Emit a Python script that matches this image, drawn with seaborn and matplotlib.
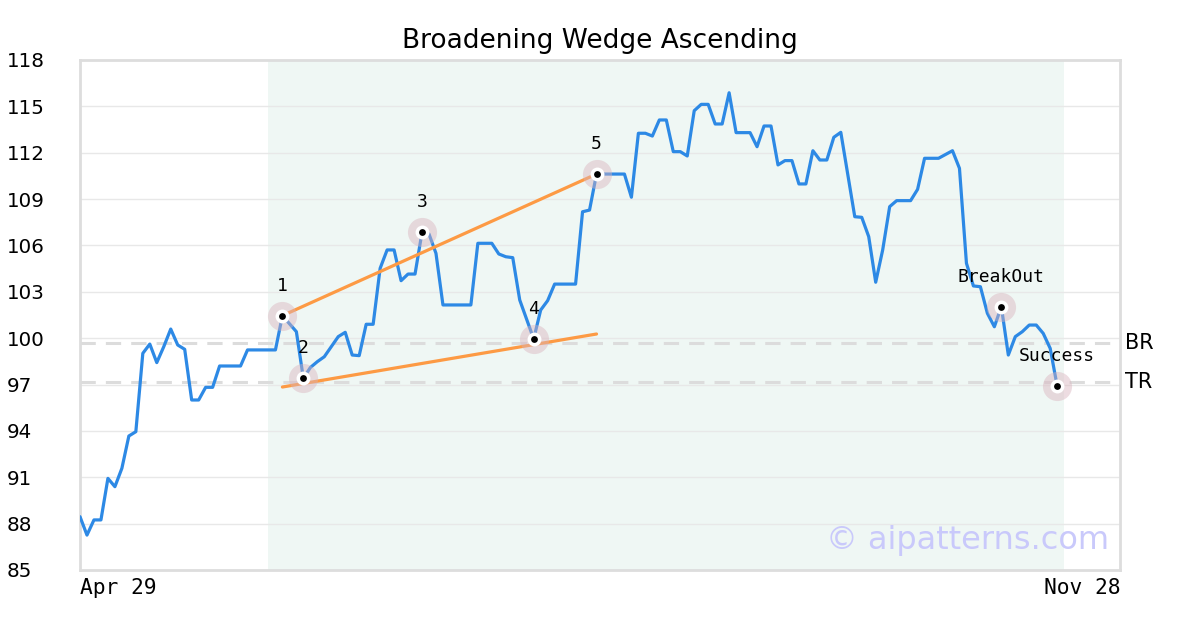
import pandas as pd
import numpy as np
import matplotlib.pyplot as plt
import seaborn as sns

# trading-day index of each vertex and the price there
dia = [0, 1, 2, 3, 4, 5, 6, 7, 8, 9, 10, 11, 12, 13, 14, 15, 16, 17, 18, 19, 20, 23, 24, 28,
       29, 31, 32, 33, 34, 35, 36, 37, 38, 39, 40, 41, 42, 43, 44, 45, 46, 47, 48,
       49, 50, 51, 52, 56, 57, 59, 60, 61, 62, 63, 65, 66, 67, 68, 71, 72, 73,
       74, 78, 79, 80, 81, 82, 83, 84, 85, 86, 87, 88, 89, 90, 91, 92, 93, 94, 96,
       97, 98, 99, 100, 101, 102, 103, 104, 105, 106, 107, 108, 109, 111, 112, 113,
       114, 115, 116, 117, 119, 120, 121, 123, 125, 126, 127, 128, 129, 130, 131,
       132, 133, 134, 135, 136, 137, 138, 139, 140]
precio = [88.45, 87.26, 88.24, 88.24, 90.93, 90.39, 91.58, 93.67, 93.95, 99.02, 99.62, 98.42,
          99.45, 100.59, 99.56, 99.28, 96.0, 96.0, 96.82, 96.82, 98.2, 98.2, 99.24, 99.24,
          101.46, 100.42, 97.4, 98.1, 98.48, 98.8, 99.45, 100.1, 100.38, 98.91, 98.87, 100.9,
          100.9, 104.52, 105.71, 105.71, 103.72, 104.15, 104.15,
          106.85, 106.74, 105.49, 102.15, 102.15, 106.14, 106.14, 105.45, 105.27, 105.21,
          102.47, 99.95, 101.82, 102.43, 103.5, 103.5, 108.18, 108.29,
          110.62, 110.62, 109.12, 113.26, 113.26, 113.08, 114.12, 114.12, 112.07, 112.07,
          111.79, 114.72, 115.13, 115.13, 113.86, 113.86, 115.88, 113.3, 113.3,
          112.39, 113.73, 113.73, 111.21, 111.49, 111.49, 109.98, 109.98, 112.13, 111.53,
          111.53, 113.0, 113.32, 107.86, 107.82, 106.57,
          103.62, 105.71, 108.51, 108.9, 108.9, 109.63, 111.64, 111.64, 112.13, 110.99,
          104.85, 103.38, 103.33, 101.61, 100.74,
          102.04, 98.91, 100.1, 100.42, 100.85, 100.85, 100.31, 99.34, 96.9]

puntos_dia = [29, 32, 49, 65, 74, 132, 140]
puntos_valor = [101.46, 97.4, 106.85, 99.95, 110.62, 102.04, 96.9]
puntos_texto = ['1', '2', '3', '4', '5', 'BreakOut', 'Success']

linea_sup_dia = [29, 74]
linea_sup_valor = [101.46, 110.62]
linea_inf_dia = [29, 74]
linea_inf_valor = [96.84, 100.27]

zona_inicio, zona_fin = 27, 141
niveles = {'BR': 99.69, 'TR': 97.16}
fechas = ['Apr 29', 'Nov 28']
ultimo_dia = 149

df = pd.DataFrame({'dia': dia, 'precio': precio})
df_puntos = pd.DataFrame({'dia': puntos_dia, 'valor': puntos_valor})

sns.set_theme(style="white")
plt.rcParams['text.color'] = 'black'
plt.rcParams['xtick.color'] = 'black'
plt.rcParams['ytick.color'] = 'black'
fig = plt.figure(figsize=(12, 6.3), dpi=100)
ax = fig.add_axes([80 / 1200, 60 / 630, 1040 / 1200, 510 / 630])

ax.axvspan(zona_inicio, zona_fin, color='#eff7f4', zorder=0, lw=0)
for yv in range(85, 119, 3):
    ax.axhline(yv, color='#e8e8e8', lw=1, zorder=1)
for nombre, nivel in niveles.items():
    ax.axhline(nivel, color='#dcdcdc', lw=2.2, ls=(0, (5, 3.3)), zorder=1)
    ax.text(1.005, nivel, nombre, transform=ax.get_yaxis_transform(), ha='left',
            va='center', fontsize=15, color='black', clip_on=False)

sns.lineplot(data=df, x='dia', y='precio', color='#2d89e5', lw=2.3, ax=ax, zorder=3)
sns.lineplot(x=linea_sup_dia, y=linea_sup_valor, color='#fd9a44', lw=2.3, ax=ax, zorder=4)
sns.lineplot(x=linea_inf_dia, y=linea_inf_valor, color='#fd9a44', lw=2.3, ax=ax, zorder=4)

sns.scatterplot(data=df_puntos, x='dia', y='valor', s=440, color='#d9b3bd', alpha=0.45,
                linewidth=0, ax=ax, zorder=5)
sns.scatterplot(data=df_puntos, x='dia', y='valor', s=100, color='white',
                linewidth=0, ax=ax, zorder=6)
sns.scatterplot(data=df_puntos, x='dia', y='valor', s=24, color='black',
                linewidth=0, ax=ax, zorder=7)
for d, v, t in zip(puntos_dia, puntos_valor, puntos_texto):
    ax.annotate(t, (d, v), xytext=(0, 21.6), textcoords='offset points', ha='center',
                va='center', fontsize=13, family='DejaVu Sans Mono', color='black', zorder=8)

ax.text(0.99, 0.058, '© aipatterns.com', transform=ax.transAxes, ha='right', va='center',
        fontsize=23, color='#c9c9fb', zorder=2)

ax.set_xlim(0, ultimo_dia)
ax.set_ylim(85, 118)
ax.set_yticks(range(85, 119, 3))
ax.set_xticks([0, ultimo_dia])
ax.set_xticklabels(fechas, family='DejaVu Sans Mono', fontsize=15.3)
ax.get_xticklabels()[0].set_ha('left')
ax.get_xticklabels()[1].set_ha('right')
for lab in ax.get_yticklabels():
    lab.set_ha('left')
    lab.set_fontsize(14.3)
ax.tick_params(axis='y', length=0, pad=53, labelcolor='black')
ax.tick_params(axis='x', length=0, pad=6, labelcolor='black')
ax.set_xlabel('')
ax.set_ylabel('')
for s in ax.spines.values():
    s.set_color('#dddddd')
    s.set_linewidth(2)
ax.set_title('Broadening Wedge Ascending', fontsize=19, pad=9, color='black')

fig.savefig('out.png', dpi=100)
